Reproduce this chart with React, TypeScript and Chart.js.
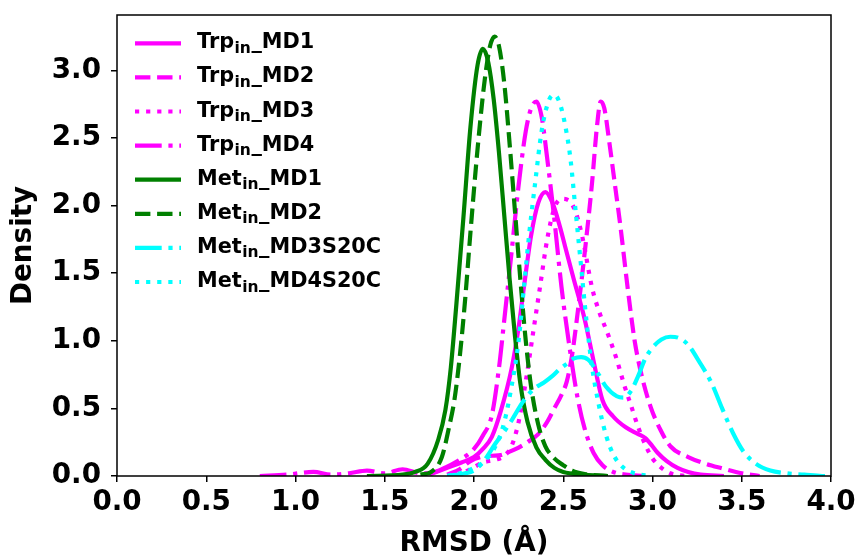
import React, { useEffect, useRef } from "react";
import { Chart, registerables } from "chart.js";

Chart.register(...registerables);

// ---------- data ----------
const xTicks = [0, 0.5, 1, 1.5, 2, 2.5, 3, 3.5, 4];
const yTicks = [0, 0.5, 1, 1.5, 2, 2.5, 3];

const trpMD1X = [1.75, 1.85, 1.93, 2.0, 2.05, 2.1, 2.15, 2.21, 2.25, 2.28, 2.32, 2.36, 2.4, 2.44, 2.48, 2.51, 2.56, 2.62, 2.67, 2.72, 2.78, 2.85, 2.92, 2.96, 3.0, 3.03, 3.08, 3.14, 3.2, 3.27, 3.4];
const trpMD1Y = [0.01, 0.06, 0.1, 0.14, 0.2, 0.29, 0.48, 0.79, 1.1, 1.4, 1.78, 2.02, 2.1, 2.02, 1.85, 1.7, 1.45, 1.16, 0.85, 0.56, 0.44, 0.36, 0.31, 0.28, 0.22, 0.17, 0.11, 0.06, 0.03, 0.01, 0.0];

const trpMD2X = [1.85, 1.92, 1.98, 2.04, 2.1, 2.15, 2.2, 2.25, 2.3, 2.36, 2.41, 2.45, 2.49, 2.52, 2.55, 2.58, 2.62, 2.66, 2.69, 2.71, 2.73, 2.76, 2.79, 2.82, 2.86, 2.9, 2.94, 2.99, 3.045, 3.1, 3.2, 3.29, 3.39, 3.5, 3.6];
const trpMD2Y = [0.01, 0.05, 0.11, 0.14, 0.15, 0.155, 0.18, 0.21, 0.25, 0.31, 0.4, 0.5, 0.6, 0.7, 0.9, 1.2, 1.65, 2.15, 2.6, 2.77, 2.72, 2.45, 2.15, 1.85, 1.4, 1.0, 0.74, 0.51, 0.34, 0.22, 0.14, 0.094, 0.057, 0.02, 0.0];

const trpMD3X = [1.9, 1.98, 2.05, 2.12, 2.17, 2.21, 2.25, 2.29, 2.33, 2.37, 2.41, 2.45, 2.49, 2.53, 2.57, 2.61, 2.66, 2.7, 2.75, 2.8, 2.84, 2.88, 2.92, 2.96, 3.0, 3.05, 3.1, 3.18];
const trpMD3Y = [0.0, 0.05, 0.1, 0.12, 0.15, 0.22, 0.4, 0.7, 1.05, 1.4, 1.75, 1.98, 2.05, 2.04, 1.95, 1.75, 1.4, 1.22, 1.05, 0.86, 0.68, 0.52, 0.36, 0.23, 0.13, 0.06, 0.02, 0.0];

const trpMD4X = [0.8, 0.95, 1.1, 1.2, 1.3, 1.4, 1.5, 1.6, 1.7, 1.78, 1.85, 1.92, 2.0, 2.05, 2.1, 2.14, 2.17, 2.21, 2.25, 2.29, 2.32, 2.35, 2.38, 2.41, 2.45, 2.49, 2.54, 2.58, 2.62, 2.67, 2.72, 2.78, 2.85, 2.95];
const trpMD4Y = [0.0, 0.01, 0.03, 0.01, 0.02, 0.04, 0.02, 0.05, 0.02, 0.03, 0.07, 0.12, 0.2, 0.3, 0.45, 0.8, 1.16, 1.65, 2.15, 2.55, 2.72, 2.77, 2.65, 2.35, 1.9, 1.4, 0.91, 0.58, 0.35, 0.17, 0.08, 0.03, 0.01, 0.0];

const metMD1X = [1.4, 1.6, 1.67, 1.74, 1.8, 1.84, 1.87, 1.9, 1.94, 1.98, 2.02, 2.05, 2.08, 2.11, 2.14, 2.17, 2.2, 2.23, 2.26, 2.3, 2.35, 2.4, 2.45, 2.5, 2.6, 2.75];
const metMD1Y = [0.0, 0.01, 0.03, 0.09, 0.27, 0.49, 0.8, 1.25, 1.9, 2.58, 3.04, 3.16, 3.06, 2.79, 2.39, 1.92, 1.45, 1.03, 0.68, 0.4, 0.21, 0.12, 0.06, 0.03, 0.01, 0.0];

const metMD2X = [1.7, 1.76, 1.82, 1.86, 1.89, 1.92, 1.95, 1.98, 2.02, 2.06, 2.09, 2.115, 2.14, 2.17, 2.2, 2.23, 2.26, 2.29, 2.32, 2.36, 2.4, 2.45, 2.5, 2.55, 2.62, 2.75];
const metMD2Y = [0.01, 0.03, 0.14, 0.36, 0.56, 0.88, 1.3, 1.8, 2.42, 2.93, 3.18, 3.25, 3.18, 2.9, 2.45, 1.95, 1.45, 1.0, 0.66, 0.38, 0.22, 0.13, 0.08, 0.04, 0.015, 0.0];

const metMD3X = [1.85, 1.95, 2.0, 2.06, 2.12, 2.17, 2.21, 2.28, 2.34, 2.39, 2.44, 2.48, 2.52, 2.56, 2.6, 2.64, 2.69, 2.74, 2.8, 2.84, 2.88, 2.92, 2.96, 3.0, 3.05, 3.1, 3.15, 3.2, 3.26, 3.33, 3.39, 3.45, 3.51, 3.58, 3.66, 3.75, 3.85, 3.95, 4.0];
const metMD3Y = [0.0, 0.02, 0.04, 0.12, 0.24, 0.33, 0.41, 0.56, 0.65, 0.69, 0.74, 0.79, 0.83, 0.87, 0.88, 0.86, 0.77, 0.66, 0.59, 0.58, 0.63, 0.74, 0.87, 0.95, 1.01, 1.03, 1.02, 0.97, 0.85, 0.69, 0.5, 0.32, 0.18, 0.09, 0.04, 0.02, 0.01, 0.0, 0.0];

const metMD4X = [1.85, 1.95, 2.0, 2.05, 2.12, 2.17, 2.21, 2.25, 2.28, 2.31, 2.34, 2.38, 2.42, 2.45, 2.48, 2.51, 2.54, 2.57, 2.6, 2.63, 2.66, 2.7, 2.74, 2.78, 2.83, 2.9, 3.0];
const metMD4Y = [0.0, 0.03, 0.06, 0.1, 0.22, 0.4, 0.66, 1.0, 1.4, 1.8, 2.14, 2.56, 2.78, 2.82, 2.76, 2.6, 2.35, 1.95, 1.55, 1.15, 0.82, 0.52, 0.3, 0.16, 0.07, 0.02, 0.0];

const seriesPrefix = ["Trp", "Trp", "Trp", "Trp", "Met", "Met", "Met", "Met"];
const seriesSuffix = ["_MD1", "_MD2", "_MD3", "_MD4", "_MD1", "_MD2", "_MD3S20C", "_MD4S20C"];
const seriesX = [trpMD1X, trpMD2X, trpMD3X, trpMD4X, metMD1X, metMD2X, metMD3X, metMD4X];
const seriesY = [trpMD1Y, trpMD2Y, trpMD3Y, trpMD4Y, metMD1Y, metMD2Y, metMD3Y, metMD4Y];

// ---------- styles ----------
const MAGENTA = "#ff00ff";
const GREEN = "#008000";
const CYAN = "#00ffff";
const LW = 4.2;
const SOLID: number[] = [];
const DASHED = [15.4, 6.7];
const DOTTED = [4.2, 6.9];
const DASHDOT = [26.7, 6.7, 4.2, 6.7];
const seriesColor = [MAGENTA, MAGENTA, MAGENTA, MAGENTA, GREEN, GREEN, CYAN, CYAN];
const seriesDash = [SOLID, DASHED, DOTTED, DASHDOT, SOLID, DASHED, DASHDOT, DOTTED];

const FONT = '"DejaVu Sans", sans-serif';

const framePlugin = {
  id: "frameBox",
  afterDatasetsDraw(chart: any) {
    const { ctx, chartArea: ca } = chart;
    ctx.save();
    ctx.strokeStyle = "#000";
    ctx.lineWidth = 1.5;
    ctx.setLineDash([]);
    ctx.strokeRect(ca.left, ca.top, ca.right - ca.left, ca.bottom - ca.top);
    ctx.restore();
  },
};

const legendPlugin = {
  id: "subLegend",
  afterDraw(chart: any) {
    const { ctx, chartArea: ca } = chart;
    ctx.save();
    for (let i = 0; i < seriesPrefix.length; i++) {
      const y = ca.top + 28.3 + i * 34.1;
      ctx.strokeStyle = seriesColor[i];
      ctx.lineWidth = LW;
      ctx.lineCap = "butt";
      ctx.setLineDash(seriesDash[i]);
      ctx.beginPath();
      ctx.moveTo(ca.left + 18, y);
      ctx.lineTo(ca.left + 64, y);
      ctx.stroke();
      ctx.setLineDash([]);
      ctx.fillStyle = "#000";
      ctx.textAlign = "left";
      ctx.textBaseline = "alphabetic";
      const base = y + 5;
      let x = ca.left + 80;
      ctx.font = `bold 20.8px ${FONT}`;
      ctx.fillText(seriesPrefix[i], x, base);
      x += ctx.measureText(seriesPrefix[i]).width;
      ctx.font = `bold 15.5px ${FONT}`;
      ctx.fillText("in", x + 0.5, base + 4.5);
      x += ctx.measureText("in").width + 1;
      ctx.font = `bold 20.8px ${FONT}`;
      ctx.fillText(seriesSuffix[i], x, base);
    }
    ctx.restore();
  },
};

export default function App() {
  const ref = useRef<HTMLCanvasElement | null>(null);

  useEffect(() => {
    if (!ref.current) return;
    const datasets = seriesX.map((xs, i) => ({
      label: seriesPrefix[i] + "in" + seriesSuffix[i],
      data: xs.map((x, j) => ({ x, y: seriesY[i][j] })),
      borderColor: seriesColor[i],
      backgroundColor: seriesColor[i],
      borderWidth: LW,
      borderDash: seriesDash[i],
      borderCapStyle: "butt" as const,
      borderJoinStyle: "round" as const,
      pointRadius: 0,
      pointHoverRadius: 0,
      fill: false,
      cubicInterpolationMode: "monotone" as const,
      order: 20 - i,
    }));

    const chart = new Chart(ref.current, {
      type: "line",
      data: { datasets },
      plugins: [framePlugin, legendPlugin],
      options: {
        animation: false,
        responsive: false,
        devicePixelRatio: 1,
        layout: { padding: { left: 0, top: 15, right: 28, bottom: 0 } },
        plugins: { legend: { display: false }, tooltip: { enabled: false } },
        scales: {
          x: {
            type: "linear",
            min: 0,
            max: 4,
            afterFit: (s: any) => { s.height = 80; s.paddingLeft = 0; s.paddingRight = 0; },
            afterBuildTicks: (s: any) => { s.ticks = xTicks.map((v) => ({ value: v })); },
            ticks: {
              color: "#000",
              padding: 4.5,
              maxRotation: 0,
              autoSkip: false,
              font: { family: FONT, size: 27.8, weight: "bold" },
              callback: (v: any) => Number(v).toFixed(1),
            },
            grid: { display: true, drawOnChartArea: false, drawTicks: true, tickLength: 6, color: "#000", lineWidth: 1.5 },
            border: { display: false },
            title: {
              display: true,
              text: "RMSD (Å)",
              color: "#000",
              padding: { top: 0, bottom: 0 },
              font: { family: FONT, size: 27.8, weight: "bold", lineHeight: 0.9 },
            },
          },
          y: {
            type: "linear",
            min: 0,
            max: 3.41,
            afterFit: (s: any) => { s.width = 117; s.paddingTop = 0; s.paddingBottom = 0; },
            afterBuildTicks: (s: any) => { s.ticks = yTicks.map((v) => ({ value: v })); },
            ticks: {
              color: "#000",
              padding: 10,
              autoSkip: false,
              font: { family: FONT, size: 27.8, weight: "bold" },
              callback: (v: any) => Number(v).toFixed(1),
            },
            grid: { display: true, drawOnChartArea: false, drawTicks: true, tickLength: 6, color: "#000", lineWidth: 1.5 },
            border: { display: false },
            title: {
              display: true,
              text: "Density",
              color: "#000",
              padding: { top: 10, bottom: 0 },
              font: { family: FONT, size: 27.8, weight: "bold", lineHeight: 1 },
            },
          },
        },
      },
    });
    return () => chart.destroy();
  }, []);

  return (
    <div style={{ position: "absolute", left: 0, top: 0, width: 859, height: 556, background: "#fff" }}>
      <canvas ref={ref} width={859} height={556} style={{ width: 859, height: 556, display: "block" }} />
    </div>
  );
}
